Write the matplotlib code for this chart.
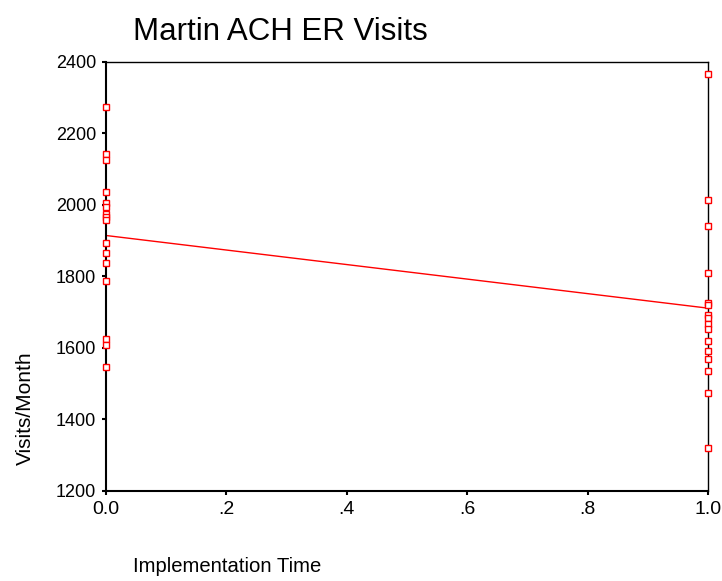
import numpy as np
import matplotlib.pyplot as plt

plt.rcParams['font.family'] = ['Liberation Sans', 'DejaVu Sans']

# monthly ER visits before (0) and after (1) implementation
before = [2274, 2142, 2125, 2035, 2005, 1994, 1975, 1966, 1958,
          1893, 1865, 1837, 1787, 1625, 1608, 1546]
after = [2366, 2015, 1941, 1811, 1726, 1719, 1691, 1685, 1666,
         1652, 1619, 1593, 1568, 1535, 1475, 1321]
xticks = [0.0, 0.2, 0.4, 0.6, 0.8, 1.0]
xtick_labels = ['0.0', '.2', '.4', '.6', '.8', '1.0']
yticks = [1200, 1400, 1600, 1800, 2000, 2200, 2400]

x = np.array([0] * len(before) + [1] * len(after), dtype=float)
y = np.array(before + after, dtype=float)

fig = plt.figure(figsize=(7.22, 5.81), dpi=100)
ax = fig.add_axes([106 / 722, 1 - 491 / 581, 602 / 722, 429 / 581])

# least squares fit line
slope, intercept = np.polyfit(x, y, 1)
xs = np.array([0.0, 1.0])
ax.plot(xs, intercept + slope * xs, color='red', lw=1)

ax.plot(x, y, ls='none', marker='s', markersize=4.5, mfc='white',
        mec='red', mew=1, clip_on=False, zorder=3)

ax.set_xlim(0, 1)
ax.set_ylim(1200, 2400)
ax.set_xticks(xticks)
ax.set_xticklabels(xtick_labels)
ax.set_yticks(yticks)
ax.tick_params(direction='out', length=3, width=1.5, labelsize=13, pad=4)
ax.tick_params(axis='x', labelsize=14)
for s in ax.spines.values():
    s.set_linewidth(1)
ax.spines['left'].set_linewidth(1.5)
ax.spines['bottom'].set_linewidth(1.5)

fig.text(133 / 722, 1 - 32 / 581, 'Martin ACH ER Visits', fontsize=22.5,
         ha='left', va='center')
fig.text(133 / 722, 1 - 566 / 581, 'Implementation Time', fontsize=14.6,
         ha='left', va='center')
fig.text(25 / 722, 1 - 408 / 581, 'Visits/Month', fontsize=15,
         rotation=90, ha='center', va='center')

fig.savefig('out.png', dpi=100)
